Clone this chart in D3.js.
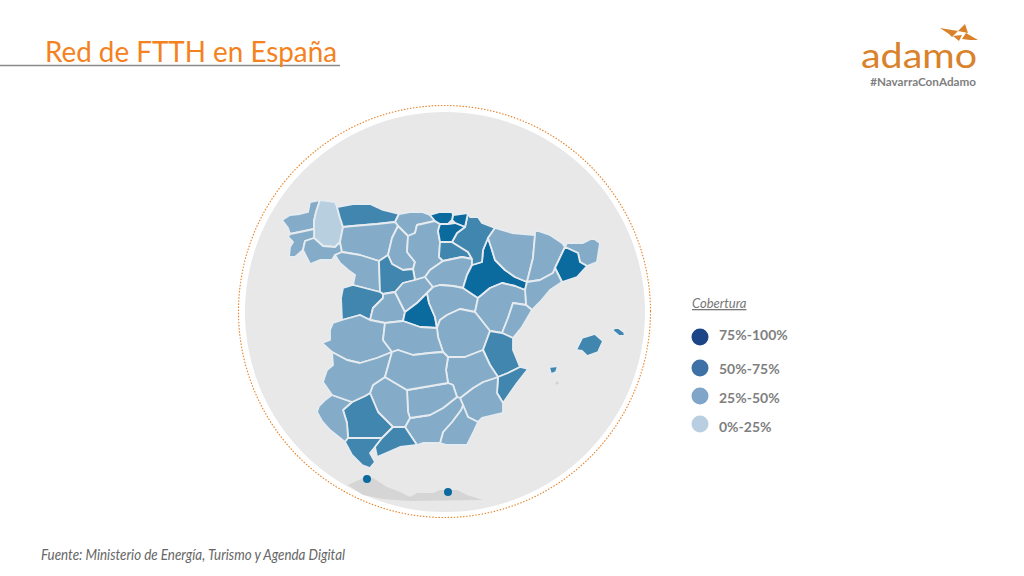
<!DOCTYPE html>
<html lang="es">
<head>
<meta charset="utf-8">
<title>Red de FTTH en España</title>
<script src="https://cdn.jsdelivr.net/npm/d3@7"></script>
<style>
  html, body { margin: 0; background: #fff; }
  svg { display: block; font-family: Lato, "Open Sans", sans-serif; }
</style>
</head>
<body>
<svg id="svg" width="1024" height="576"></svg>
<script>
// coverage bands, highest first, as in the legend
const bandLabels = ['75%-100%', '50%-75%', '25%-50%', '0%-25%'];

const provinceNames = [
  'A Coruña', 'Lugo', 'Pontevedra', 'Ourense', 'Asturias', 'Cantabria', 'León', 'Palencia', 'Burgos',
  'La Rioja', 'Zamora', 'Valladolid', 'Salamanca', 'Ávila', 'Segovia', 'Madrid', 'Soria', 'Guadalajara',
  'Zaragoza', 'Navarra', 'Gipuzkoa', 'Bizkaia', 'Araba', 'Huesca', 'Lleida', 'Girona', 'Barcelona',
  'Tarragona', 'Teruel', 'Castellón', 'Cuenca', 'Valencia', 'Alicante', 'Murcia', 'Albacete', 'Almería',
  'Granada', 'Jaén', 'Córdoba', 'Sevilla', 'Huelva', 'Cádiz', 'Málaga', 'Cáceres', 'Badajoz', 'Toledo',
  'Ciudad Real', 'Mallorca', 'Menorca', 'Ibiza'
];

// index into bandLabels, same order as provinceNames
const provinceBands = [
  2, 3, 2, 2, 1, 2, 2, 2, 2,
  1, 2, 1, 1, 2, 2, 0, 2, 2,
  0, 1, 0, 0, 0, 2, 2, 2, 0,
  2, 2, 2, 2, 1, 1, 2, 2, 2,
  2, 2, 2, 1, 2, 1, 1, 2, 2, 2,
  2, 1, 1, 1
];

// outlines, in map units, same order as provinceNames
const provinceRings = [
  [[12,25],[20,20],[30,19],[38,17],[40,7],[50,5],[46,17],[44,26],[44,34],[30,37],[20,39],[18,33]],
  [[50,5],[65,7],[67,12],[70,23],[73,32],[70,47],[65,52],[53,51],[44,43],[44,34],[44,26],[46,17]],
  [[20,39],[30,37],[44,34],[44,43],[35,46],[33,55],[25,62],[19,62],[20,52],[23,47],[18,42]],
  [[35,46],[44,43],[53,51],[65,52],[70,47],[72,57],[65,60],[62,65],[50,65],[40,69],[37,63],[33,55]],
  [[67,12],[83,9],[100,9],[113,15],[129,19],[125,27],[107,29],[83,31],[73,32],[70,23]],
  [[129,19],[140,17],[152,17],[160,20],[165,26],[147,30],[145,38],[138,41],[128,31],[125,27]],
  [[73,32],[83,31],[107,29],[125,27],[128,31],[122,43],[118,60],[109,66],[90,60],[72,57],[70,47]],
  [[128,31],[138,41],[137,57],[145,67],[143,74],[133,75],[122,69],[118,60],[122,43]],
  [[147,30],[165,26],[170,29],[168,36],[170,47],[169,62],[173,66],[160,75],[155,82],[145,85],[143,74],[145,67],[137,57],[138,41],[145,38]],
  [[170,47],[182,47],[198,57],[202,64],[192,62],[173,66],[169,62]],
  [[72,57],[90,60],[109,66],[110,97],[83,90],[85,80],[78,75],[70,68],[65,60]],
  [[109,66],[118,60],[122,69],[133,75],[143,74],[145,85],[133,88],[125,97],[113,99],[110,97]],
  [[83,90],[110,97],[113,99],[113,103],[103,113],[100,125],[90,120],[72,125],[71,103],[73,93]],
  [[113,103],[113,99],[125,97],[135,117],[133,126],[115,128],[100,125],[103,113]],
  [[145,85],[155,82],[163,92],[157,98],[147,108],[135,117],[125,97],[133,88]],
  [[157,98],[159,108],[165,122],[167,133],[150,132],[133,126],[135,117],[147,108]],
  [[173,66],[192,62],[202,64],[202,70],[197,80],[193,93],[183,91],[170,90],[163,92],[155,82],[160,75]],
  [[157,98],[163,92],[170,90],[183,91],[193,93],[208,103],[205,117],[190,114],[177,120],[170,125],[167,133],[165,122],[159,108]],
  [[218,43],[222,55],[225,65],[235,75],[245,82],[257,87],[255,95],[245,91],[232,88],[220,93],[208,103],[193,93],[197,80],[202,70],[212,67],[213,55]],
  [[198,18],[200,22],[208,22],[212,28],[225,33],[218,43],[213,55],[212,67],[202,70],[202,64],[198,57],[182,47],[187,38],[195,32]],
  [[183,20],[198,18],[195,32],[185,28],[182,25]],
  [[160,20],[170,17],[182,17],[183,20],[182,25],[178,29],[170,29],[165,26]],
  [[170,29],[178,29],[185,28],[195,32],[187,38],[182,47],[170,47],[168,36]],
  [[225,33],[242,38],[265,40],[263,63],[257,87],[245,82],[235,75],[225,65],[222,55],[218,43]],
  [[265,35],[280,40],[292,48],[295,52],[285,73],[283,78],[270,85],[257,87],[263,63],[265,40]],
  [[297,48],[313,48],[323,43],[330,48],[327,67],[317,71],[310,67],[308,58],[295,52]],
  [[295,52],[308,58],[310,67],[317,71],[307,82],[292,87],[285,73]],
  [[285,73],[292,87],[280,95],[270,107],[262,115],[256,110],[255,95],[257,87],[270,85],[283,78]],
  [[232,88],[245,91],[255,95],[256,110],[243,108],[238,123],[232,138],[220,136],[205,117],[208,103],[220,93]],
  [[243,108],[256,110],[262,115],[252,132],[243,143],[232,138],[238,123]],
  [[170,125],[177,120],[190,114],[205,117],[220,136],[213,155],[195,162],[178,162],[173,157],[168,142],[167,133]],
  [[220,136],[232,138],[243,143],[243,155],[250,172],[238,178],[228,182],[220,170],[213,155]],
  [[228,182],[238,178],[250,172],[258,174],[247,188],[233,208],[227,198]],
  [[190,203],[203,193],[213,187],[228,182],[227,198],[233,208],[233,218],[212,223],[208,227],[198,222],[193,210]],
  [[178,162],[195,162],[213,155],[220,170],[228,182],[213,187],[203,193],[190,203],[187,202],[183,190],[178,188],[176,175]],
  [[193,210],[198,222],[208,227],[203,238],[197,250],[177,250],[170,248],[173,237],[182,227],[191,215]],
  [[187,202],[190,203],[193,210],[191,215],[182,227],[173,237],[170,248],[153,248],[147,250],[135,232],[140,223],[160,220],[173,213]],
  [[137,195],[178,188],[183,190],[187,202],[173,213],[160,220],[140,223],[138,217]],
  [[115,182],[137,195],[138,217],[140,223],[135,232],[123,232],[108,217],[100,198],[103,190]],
  [[95,201],[100,198],[108,217],[123,232],[112,243],[78,243],[77,228],[73,215],[82,207]],
  [[62,200],[82,207],[73,215],[77,228],[78,243],[75,247],[60,235],[52,226],[47,217],[49,211],[55,205]],
  [[75,247],[78,243],[112,243],[105,252],[100,258],[105,267],[100,273],[92,270],[82,260]],
  [[123,232],[135,232],[147,250],[130,252],[107,262],[105,252],[112,243]],
  [[63,128],[72,125],[90,120],[100,125],[115,128],[113,145],[122,157],[107,163],[90,168],[77,165],[62,157],[52,148],[60,145],[60,135]],
  [[62,157],[77,165],[90,168],[107,163],[122,157],[115,182],[103,190],[100,198],[95,201],[82,207],[62,200],[53,187],[57,175],[63,170]],
  [[115,128],[133,126],[150,132],[167,133],[168,142],[173,157],[160,158],[143,160],[128,155],[122,157],[113,145]],
  [[122,157],[128,155],[143,160],[160,158],[173,157],[178,162],[176,175],[178,188],[137,195],[115,182]],
  [[306,155],[312,143],[325,139],[333,146],[328,157],[317,161],[312,156]],
  [[342,135],[347,132],[354,137],[355,141],[349,141]],
  [[279,172],[288,171],[286,177],[281,179]]
];

const ceutaMelilla = [[97,284],[178,297]];
const formentera = [[287,188]];
const moroccoRing = [[78,290],[93,283],[103,283],[117,292],[130,297],[140,302],[147,298],[163,298],[170,295],[187,295],[197,300],[213,305],[140,306],[113,304],[93,300]];

const bandColors = ['#0b6a9e', '#4186ae', '#84acc8', '#b7cfdf'];
const legendColors = ['#1b4587', '#3e72a6', '#7fa5c9', '#b9cee0'];

const svg = d3.select('#svg');

// title
svg.append('line')
  .attr('x1', 0).attr('x2', 340).attr('y1', 65.5).attr('y2', 65.5)
  .attr('stroke', '#8a8a8a').attr('stroke-width', 1.3);
svg.append('text')
  .attr('x', 45).attr('y', 62)
  .attr('font-size', 29)
  .attr('textLength', 292)
  .attr('lengthAdjust', 'spacingAndGlyphs')
  .attr('fill', '#f58220')
  .text('Red de FTTH en España');

// background disc and dotted ring
svg.append('circle')
  .attr('cx', 445).attr('cy', 312).attr('r', 200)
  .attr('fill', '#e8e8e8');
svg.append('circle')
  .attr('cx', 444.5).attr('cy', 311.5).attr('r', 206)
  .attr('fill', 'none')
  .attr('stroke', '#e8862e')
  .attr('stroke-width', 1.2)
  .attr('stroke-linecap', 'round')
  .attr('stroke-dasharray', '0.5 2.6');

// map units -> page
const projection = d3.geoIdentity().translate([270, 195]);
const path = d3.geoPath(projection);
const colour = d3.scaleOrdinal().domain(d3.range(bandLabels.length)).range(bandColors);

const closeRing = ring => [...ring, ring[0]];
const provinces = provinceNames.map((name, i) => ({
  type: 'Feature',
  properties: { name, band: provinceBands[i] },
  geometry: { type: 'Polygon', coordinates: [closeRing(provinceRings[i])] }
}));

svg.append('path')
  .datum({ type: 'Polygon', coordinates: [closeRing(moroccoRing)] })
  .attr('d', path)
  .attr('fill', '#d5d5d5');

svg.append('g')
  .selectAll('path')
  .data(provinces)
  .enter()
  .append('path')
  .attr('d', path)
  .attr('fill', d => colour(d.properties.band))
  .attr('stroke', '#e6ebf0')
  .attr('stroke-width', 1.8)
  .attr('stroke-linejoin', 'round');

svg.selectAll('circle.city')
  .data(ceutaMelilla)
  .enter()
  .append('circle')
  .attr('class', 'city')
  .attr('cx', d => projection(d)[0])
  .attr('cy', d => projection(d)[1])
  .attr('r', 4)
  .attr('fill', bandColors[0]);

svg.selectAll('circle.islet')
  .data(formentera)
  .enter()
  .append('circle')
  .attr('class', 'islet')
  .attr('cx', d => projection(d)[0])
  .attr('cy', d => projection(d)[1])
  .attr('r', 1.5)
  .attr('fill', '#d2d2d2');

// legend, spacing in the original is uneven
const legendDotY = [337, 368, 396, 424];
const legendTextY = [340, 374, 403, 432];

svg.append('text')
  .attr('x', 692).attr('y', 308)
  .attr('font-size', 13)
  .attr('font-style', 'italic')
  .attr('text-decoration', 'underline')
  .attr('fill', '#777')
  .text('Cobertura');

svg.selectAll('circle.legend')
  .data(bandLabels)
  .enter()
  .append('circle')
  .attr('class', 'legend')
  .attr('cx', 700)
  .attr('cy', (d, i) => legendDotY[i])
  .attr('r', 8.5)
  .attr('fill', (d, i) => legendColors[i]);

svg.selectAll('text.legend')
  .data(bandLabels)
  .enter()
  .append('text')
  .attr('class', 'legend')
  .attr('x', 719)
  .attr('y', (d, i) => legendTextY[i])
  .attr('font-size', 14)
  .attr('font-weight', 700)
  .attr('fill', '#7f7f7f')
  .text(d => d);

// logo
const logoMarks = [
  [[940,28],[958,31],[952,37],[949,34]],
  [[965,24],[968,33],[958,31]],
  [[953,36],[962,35],[959,41]],
  [[978,40],[966,33],[962,39],[970,40]]
];
svg.selectAll('polygon.logo')
  .data(logoMarks)
  .enter()
  .append('polygon')
  .attr('class', 'logo')
  .attr('points', d => d.join(' '))
  .attr('fill', '#d9822b');
svg.append('text')
  .attr('x', 861).attr('y', 67.5)
  .attr('font-size', 34)
  .attr('textLength', 116)
  .attr('lengthAdjust', 'spacingAndGlyphs')
  .attr('fill', '#d9822b')
  .text('adamo');
svg.append('text')
  .attr('x', 976).attr('y', 86)
  .attr('text-anchor', 'end')
  .attr('font-size', 11.7)
  .attr('font-weight', 700)
  .attr('fill', '#7f7f7f')
  .text('#NavarraConAdamo');

// source
svg.append('text')
  .attr('x', 41).attr('y', 560)
  .attr('font-size', 14.5)
  .attr('font-style', 'italic')
  .attr('textLength', 304)
  .attr('lengthAdjust', 'spacingAndGlyphs')
  .attr('fill', '#666')
  .text('Fuente: Ministerio de Energía, Turismo y Agenda Digital');
</script>
</body>
</html>
